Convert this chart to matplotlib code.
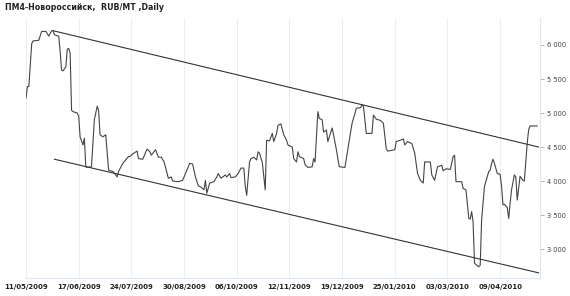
import datetime as dt
import matplotlib
matplotlib.use("Agg")
import matplotlib.pyplot as plt
import matplotlib.dates as mdates
from matplotlib.ticker import FuncFormatter

title = "ПМ4-Новороссийск,  RUB/MT ,Daily"
start = dt.date(2009, 5, 11)

# days since 11/05/2009 and price (RUB/MT)
days = [0, 1, 2, 4, 5, 9, 11, 14, 16, 18, 19, 20, 23, 24, 25, 26, 28, 29, 30, 31,
        32, 33, 36, 37, 38, 40, 41, 42, 43, 46, 48, 50, 51, 52, 54, 56, 58, 61, 63, 64,
        65, 68, 72, 73, 75, 78, 79, 82, 85, 87, 88, 91, 93, 95, 97, 100, 102, 103, 107, 110,
        113, 115, 117, 119, 121, 123, 125, 126, 127, 129, 132, 134, 135, 137, 140, 141, 143, 144, 147, 149,
        151, 153, 154, 155, 157, 158, 160, 162, 163, 164, 166, 168, 169, 171, 173, 174, 176, 177, 179, 181,
        183, 184, 187, 188, 190, 191, 192, 195, 196, 198, 201, 202, 203, 205, 206, 208, 209, 211, 212, 215,
        216, 218, 220, 224, 226, 228, 229, 231, 232, 235, 236, 237, 239, 243, 244, 246, 249, 251, 253, 254,
        259, 260, 263, 265, 266, 268, 271, 273, 275, 277, 279, 280, 284, 285, 287, 289, 292, 293, 295, 298,
        300, 301, 302, 306, 307, 309, 311, 312, 313, 314, 315, 318, 319, 320, 322, 325, 326, 327, 328, 329,
        331, 333, 334, 335, 336, 338, 339, 340, 341, 343, 344, 345, 346, 347, 349, 350, 352, 353, 354, 359]
prices = [5220, 5390, 5390, 6020, 6060, 6070, 6200, 6200, 6130, 6210, 6210, 6150, 6130, 5900, 5630, 5620, 5680, 5940, 5950, 5880,
          5040, 5020, 5000, 4950, 4650, 4530, 4630, 4210, 4200, 4210, 4900, 5100, 5040, 4680, 4650, 4680, 4160, 4140, 4090, 4060,
          4140, 4260, 4360, 4360, 4400, 4440, 4330, 4320, 4470, 4430, 4380, 4460, 4350, 4350, 4280, 4040, 4060, 4000, 3990, 4010,
          4160, 4260, 4250, 4060, 3930, 3910, 3870, 4010, 3820, 3970, 3990, 4060, 4110, 4040, 4090, 4060, 4110, 4050, 4060, 4110,
          4190, 4190, 3920, 3790, 4280, 4330, 4350, 4310, 4430, 4410, 4270, 3870, 4600, 4590, 4700, 4580, 4700, 4820, 4840, 4680,
          4600, 4530, 4500, 4330, 4280, 4430, 4360, 4330, 4240, 4200, 4210, 4330, 4280, 5020, 4920, 4900, 4720, 4750, 4580, 4780,
          4680, 4460, 4210, 4200, 4460, 4720, 4850, 4990, 5070, 5080, 5120, 5100, 4700, 4700, 4970, 4910, 4890, 4850, 4480, 4440,
          4460, 4580, 4600, 4620, 4530, 4580, 4550, 4410, 4110, 4010, 3970, 4280, 4280, 4090, 4010, 4210, 4230, 4150, 4180, 4170,
          4360, 4380, 3990, 3990, 3890, 3870, 3450, 3440, 3550, 3400, 2790, 2740, 2760, 3430, 3920, 4140, 4160, 4260, 4320, 4260,
          4110, 4100, 3920, 3650, 3660, 3610, 3450, 3670, 3870, 4090, 4060, 3720, 3890, 4070, 4010, 4000, 4550, 4750, 4810, 4810]

# channel lines: (day, value) at each end
upper_days = [19, 360]
upper_vals = [6210, 4500]
lower_days = [20, 360]
lower_vals = [4320, 2650]

tick_days = [0, 37, 74, 111, 148, 185, 222, 259, 296, 333]
y_ticks = [3000, 3500, 4000, 4500, 5000, 5500, 6000]


def to_dates(ds):
    return [start + dt.timedelta(days=d) for d in ds]


fig = plt.figure(figsize=(5.70, 2.96), dpi=100)
ax = fig.add_axes([26 / 570, 18 / 296, 514 / 570, 260 / 296])

ax.plot(to_dates(days), prices, color="#444444", lw=0.8)
ax.plot(to_dates(upper_days), upper_vals, color="#333333", lw=0.8)
ax.plot(to_dates(lower_days), lower_vals, color="#333333", lw=0.8)

ax.set_xlim(start, start + dt.timedelta(days=361))
ax.set_ylim(2574, 6397)

ax.set_xticks(to_dates(tick_days))
ax.xaxis.set_major_formatter(mdates.DateFormatter("%d/%m/%Y"))
ax.set_yticks(y_ticks)
ax.yaxis.set_major_formatter(FuncFormatter(lambda v, p: f"{int(v):,}".replace(",", " ")))

ax.yaxis.tick_right()
ax.tick_params(axis="x", length=0, pad=4, labelsize=5, labelcolor="#222222")
ax.tick_params(axis="y", length=3, width=0.6, color="#9aa8b4", pad=2,
               labelsize=4.8, labelcolor="#444444")
for lab in ax.get_xticklabels():
    lab.set_fontweight("bold")

ax.grid(axis="x", color="#e6eef6", lw=0.8)
for side in ["top", "left"]:
    ax.spines[side].set_visible(False)
for side in ["bottom", "right"]:
    ax.spines[side].set_color("#dde8f2")
    ax.spines[side].set_linewidth(0.8)

fig.text(5 / 570, 1 - 8 / 296, title, fontsize=5.7, fontweight="bold",
         color="#222222", va="center", ha="left")

fig.savefig("out.png", dpi=100)
